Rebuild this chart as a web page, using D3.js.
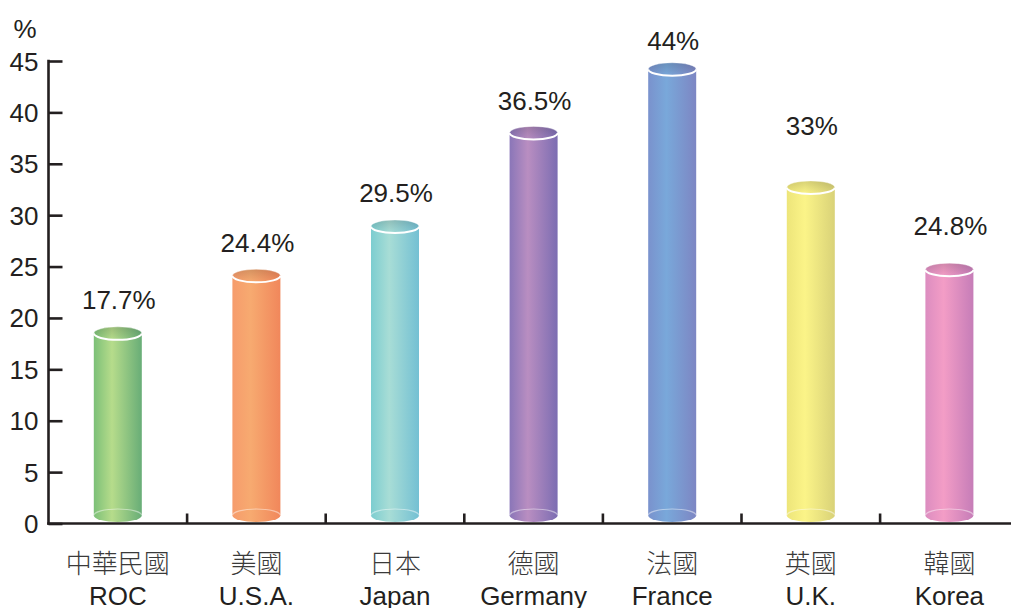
<!DOCTYPE html>
<html>
<head>
<meta charset="utf-8">
<script src="https://cdn.jsdelivr.net/npm/d3@7"></script>
<style>
  html, body { margin: 0; padding: 0; background: #fff; }
  svg { display: block; }
</style>
</head>
<body>
<svg id="chart" width="1011" height="608"></svg>
<script>
// ---- data ----
const categoriesZh = ["中華民國", "美國", "日本", "德國", "法國", "英國", "韓國"];
const categoriesEn = ["ROC", "U.S.A.", "Japan", "Germany", "France", "U.K.", "Korea"];
// bar heights as drawn (top of cylinder)
const barValues = [18.5, 24.1, 28.9, 38.0, 44.2, 32.7, 24.7];
// value labels as printed
const valueLabels = ["17.7%", "24.4%", "29.5%", "36.5%", "44%", "33%", "24.8%"];
// where each value label sits, in axis units (baseline)
const labelAnchors = [20.85, 26.4, 31.3, 40.2, 46.1, 37.8, 28.05];
const yTicks = [0, 5, 10, 15, 20, 25, 30, 35, 40, 45];
const yUnit = "%";
// gradient stops per bar: [left, highlight, right]
const barColors = [
  ["#7cc078", "#b6dc8b", "#68ad77"],
  ["#f69c6c", "#f7aa70", "#f1875b"],
  ["#7ccdd0", "#a8ddd6", "#74c0d3"],
  ["#8a76b8", "#b98ec1", "#7c6db2"],
  ["#7a92cd", "#79a8da", "#7d86c3"],
  ["#ede57a", "#fbf488", "#d9d278"],
  ["#dc8dc0", "#f39dc6", "#c67db8"]
];

// ---- layout ----
const svg = d3.select("#chart");
const x0 = 48.5, bandW = 138.6;
const x = d3.scaleBand().domain(categoriesEn).range([x0, x0 + bandW * categoriesEn.length]).padding(0);
const y = d3.scaleLinear().domain([0, 45]).range([523.5, 61]);

const ink = "#231f20";
const latin = "'Liberation Sans', Arial, Helvetica, sans-serif";
const cjk = "'Noto Sans CJK TC', 'Noto Sans CJK SC', sans-serif";

const defs = svg.append("defs");
barColors.forEach((c, i) => {
  const g = defs.append("linearGradient").attr("id", "body" + i)
    .attr("x1", "0%").attr("x2", "100%").attr("y1", "0%").attr("y2", "0%");
  g.append("stop").attr("offset", "0%").attr("stop-color", c[0]);
  g.append("stop").attr("offset", "38%").attr("stop-color", c[1]);
  g.append("stop").attr("offset", "100%").attr("stop-color", c[2]);
});
const shade = defs.append("linearGradient").attr("id", "topShade")
  .attr("x1", "0%").attr("x2", "0%").attr("y1", "0%").attr("y2", "100%");
shade.append("stop").attr("offset", "0%").attr("stop-color", "#000").attr("stop-opacity", 0.14);
shade.append("stop").attr("offset", "100%").attr("stop-color", "#000").attr("stop-opacity", 0.0);

// ---- bars (cylinders) ----
const rx = 24, ry = 6.5;
const bars = svg.append("g").selectAll("g").data(barValues).join("g");
bars.each(function (v, i) {
  const g = d3.select(this);
  const cx = x(categoriesEn[i]) + x.bandwidth() / 2;
  const yTop = y(v);
  const yBot = y(0) - ry - 1.5;
  g.append("rect").attr("x", cx - rx).attr("y", yTop).attr("width", rx * 2)
    .attr("height", yBot - yTop).attr("fill", `url(#body${i})`);
  g.append("ellipse").attr("cx", cx).attr("cy", yBot).attr("rx", rx).attr("ry", ry)
    .attr("fill", `url(#body${i})`);
  g.append("path")
    .attr("d", `M${cx - rx},${yBot} A${rx},${ry} 0 0 1 ${cx + rx},${yBot}`)
    .attr("fill", "none").attr("stroke", "#fff").attr("stroke-opacity", 0.45).attr("stroke-width", 1.2);
  g.append("ellipse").attr("cx", cx).attr("cy", yTop).attr("rx", rx).attr("ry", ry)
    .attr("fill", `url(#body${i})`);
  g.append("ellipse").attr("cx", cx).attr("cy", yTop).attr("rx", rx).attr("ry", ry)
    .attr("fill", "url(#topShade)");
  g.append("path")
    .attr("d", `M${cx - rx},${yTop} A${rx},${ry} 0 0 0 ${cx + rx},${yTop}`)
    .attr("fill", "none").attr("stroke", "#fff").attr("stroke-width", 2);
  g.append("path")
    .attr("d", `M${cx - rx},${yTop} A${rx},${ry} 0 0 1 ${cx + rx},${yTop}`)
    .attr("fill", "none").attr("stroke", "#fff").attr("stroke-opacity", 0.5).attr("stroke-width", 0.8);
});

// ---- value labels ----
svg.append("g").selectAll("text").data(valueLabels).join("text")
  .attr("x", (d, i) => x(categoriesEn[i]) + x.bandwidth() / 2 + 1)
  .attr("y", (d, i) => y(labelAnchors[i]))
  .attr("text-anchor", "middle")
  .attr("font-family", latin).attr("font-size", 26).attr("fill", ink)
  .text(d => d);

// ---- y axis ----
const yAxis = d3.axisRight(y).tickValues(yTicks).tickSize(14).tickFormat("");
const gy = svg.append("g").attr("transform", `translate(${x0},0)`).call(yAxis);
gy.select(".domain").remove();
gy.selectAll(".tick line").attr("stroke", ink).attr("stroke-width", 2.6);
svg.append("line").attr("x1", x0).attr("x2", x0).attr("y1", y(45) - 1.3).attr("y2", y(0) + 1.3)
  .attr("stroke", ink).attr("stroke-width", 2.6);
svg.append("g").selectAll("text").data(yTicks).join("text")
  .attr("x", 38.5).attr("y", d => y(d) + 9.5)
  .attr("text-anchor", "end")
  .attr("font-family", latin).attr("font-size", 26).attr("fill", ink)
  .text(d => d);
svg.append("text").attr("x", 25).attr("y", 38).attr("text-anchor", "middle")
  .attr("font-family", latin).attr("font-size", 26).attr("fill", ink).text(yUnit);

// ---- x axis ----
svg.append("line").attr("x1", x0 - 1.3).attr("x2", 1011).attr("y1", y(0)).attr("y2", y(0))
  .attr("stroke", ink).attr("stroke-width", 2.6);
const boundaries = categoriesEn.slice(1).map(c => x(c));
svg.append("g").selectAll("line").data(boundaries).join("line")
  .attr("x1", d => d).attr("x2", d => d).attr("y1", y(0)).attr("y2", y(0) - 10)
  .attr("stroke", ink).attr("stroke-width", 2.6);

// ---- category labels ----
svg.append("g").selectAll("text").data(categoriesZh).join("text")
  .attr("x", (d, i) => x(categoriesEn[i]) + x.bandwidth() / 2)
  .attr("y", 573)
  .attr("text-anchor", "middle")
  .attr("font-family", cjk).attr("font-weight", 300).attr("font-size", 26).attr("fill", "#3a3a3a")
  .text(d => d);
svg.append("g").selectAll("text").data(categoriesEn).join("text")
  .attr("x", (d, i) => x(d) + x.bandwidth() / 2)
  .attr("y", 605)
  .attr("text-anchor", "middle")
  .attr("font-family", latin).attr("font-size", 26).attr("fill", ink)
  .text(d => d);
</script>
</body>
</html>
